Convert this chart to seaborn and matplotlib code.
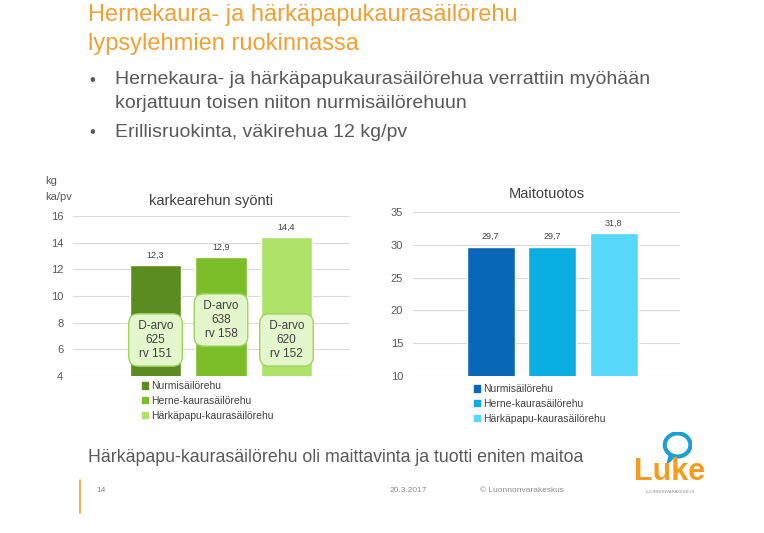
import matplotlib
matplotlib.use("Agg")
import matplotlib.pyplot as plt
from matplotlib.patches import Patch, Ellipse, Polygon
import seaborn as sns
import pandas as pd

# data
feeds = ["Nurmisäilörehu", "Herne-kaurasäilörehu", "Härkäpapu-kaurasäilörehu"]
intake = [12.3, 12.9, 14.4]
milk = [29.7, 29.7, 31.8]
d_arvo = [625, 638, 620]
rv = [151, 158, 152]
box_y = [6.7, 8.2, 6.7]

greens = ["#5b8c1f", "#7cbd2a", "#aee36a"]
blues = ["#0a66b8", "#0aaee2", "#56d9f8"]

sns.set_style("white")
plt.rcParams["font.family"] = ["Liberation Sans", "DejaVu Sans"]

TXT = "#404040"
GRAY = "#595959"

fig = plt.figure(figsize=(7.64, 5.33), dpi=100)
W, H = 764, 533


def fx(px):
    return px / W


def fy(py):
    return 1 - py / H


# slide text
fig.text(fx(88), fy(15), "Hernekaura- ja härkäpapukaurasäilörehu", fontsize=17,
         color="#f0a135", va="center", ha="left")
fig.text(fx(88), fy(44), "lypsylehmien ruokinnassa", fontsize=17,
         color="#f0a135", va="center", ha="left")
bullets = [(80, "Hernekaura- ja härkäpapukaurasäilörehua verrattiin myöhään"),
           (103, "korjattuun toisen niiton nurmisäilörehuun"),
           (133, "Erillisruokinta, väkirehua 12 kg/pv")]
for py, t in bullets:
    fig.text(fx(115), fy(py), t, fontsize=14, color=GRAY, va="center", ha="left")
for py in [80, 133]:
    fig.text(fx(89), fy(py), "•", fontsize=12, color=GRAY, va="center", ha="left")

fig.text(fx(88), fy(457), "Härkäpapu-kaurasäilörehu oli maittavinta ja tuotti eniten maitoa",
         fontsize=12.8, color=GRAY, va="center", ha="left")

# footer
fig.add_artist(plt.Line2D([fx(80), fx(80)], [fy(480), fy(513)], color="#f0a135", lw=1.2))
fig.text(fx(96), fy(491), "14", fontsize=6, color="#8c8c8c", va="center")
fig.text(fx(390), fy(491), "20.3.2017", fontsize=6, color="#8c8c8c", va="center")
fig.text(fx(480), fy(491), "© Luonnonvarakeskus", fontsize=6, color="#8c8c8c", va="center")

# logo
fig.text(fx(670), fy(472), "Luke", fontsize=22, color="#f39c1f", ha="center",
         va="center", fontweight="bold")
fig.text(fx(670), fy(492), "LUONNONVARAKESKUS", fontsize=3, color="#8c8c8c",
         ha="center", va="center")
logo_ax = fig.add_axes([fx(660), fy(466), fx(32), 34 / H])
logo_ax.set_xlim(0, 1)
logo_ax.set_ylim(0, 1)
logo_ax.axis("off")
logo_ax.add_patch(Ellipse((0.55, 0.62), 0.8, 0.68, fill=False, ec="#1b9fd6", lw=3))
logo_ax.add_patch(Polygon([[0.3, 0.35], [0.22, 0.05], [0.48, 0.3]], closed=True,
                          fc="#1b9fd6", ec="#1b9fd6"))


def style_axes(ax):
    sns.despine(ax=ax, left=True, bottom=True)
    ax.yaxis.grid(True, color="#d9d9d9", lw=0.8)
    ax.set_axisbelow(True)
    ax.set_xlabel("")
    ax.set_ylabel("")
    ax.set_xticks([])
    ax.tick_params(axis="y", length=0, labelsize=8, labelcolor=GRAY, pad=7)


def fmt(v):
    return f"{v:.1f}".replace(".", ",")


# left chart: roughage intake
ax1 = fig.add_axes([fx(73), fy(376), fx(277), 160 / H])
df1 = pd.DataFrame({"rehu": feeds, "syonti": intake})
sns.barplot(data=df1, x="rehu", y="syonti", hue="rehu", palette=greens,
            saturation=1, width=0.78, dodge=False, legend=False, ax=ax1)
ax1.set_ylim(4, 16)
ax1.set_yticks(range(4, 17, 2))
ax1.set_xlim(-1.26, 2.97)
style_axes(ax1)
for cont, v in zip(ax1.containers, intake):
    ax1.bar_label(cont, labels=[fmt(v)], padding=4, fontsize=6.5, color=TXT)
for i, (d, r, y) in enumerate(zip(d_arvo, rv, box_y)):
    ax1.text(i, y, f" D-arvo \n{d}\nrv {r}", ha="center", va="center", fontsize=8.5,
             color=TXT, linespacing=1.25,
             bbox=dict(boxstyle="round,pad=0.5,rounding_size=0.8",
                       fc="#e4f6cc", ec="#9fd35c", lw=1))
ax1.set_title("karkearehun syönti", fontsize=10.5, color=TXT, pad=8)
fig.text(fx(45), fy(181), "kg", fontsize=8, color=GRAY, va="center")
fig.text(fx(45), fy(197), "ka/pv", fontsize=8, color=GRAY, va="center")

# right chart: milk yield
ax2 = fig.add_axes([fx(413), fy(376), fx(267), 164 / H])
df2 = pd.DataFrame({"rehu": feeds, "maito": milk})
sns.barplot(data=df2, x="rehu", y="maito", hue="rehu", palette=blues,
            saturation=1, width=0.78, dodge=False, legend=False, ax=ax2)
ax2.set_ylim(10, 35)
ax2.set_yticks(range(10, 36, 5))
ax2.set_xlim(-1.26, 3.08)
style_axes(ax2)
for cont, v in zip(ax2.containers, milk):
    ax2.bar_label(cont, labels=[fmt(v)], padding=4, fontsize=6.5, color=TXT)
ax2.set_title("Maitotuotos", fontsize=10.5, color=TXT, pad=10)

# legends
for colors, x0, y0 in [(greens, 138, 377), (blues, 470, 380)]:
    handles = [Patch(color=c, label=l) for c, l in zip(colors, feeds)]
    fig.legend(handles=handles, loc="upper left", bbox_to_anchor=(fx(x0), fy(y0)),
               frameon=False, fontsize=7.5, handlelength=0.6, handleheight=0.6,
               handletextpad=0.3, labelspacing=0.45, borderaxespad=0,
               labelcolor=TXT)

fig.savefig("out.png", dpi=100)
